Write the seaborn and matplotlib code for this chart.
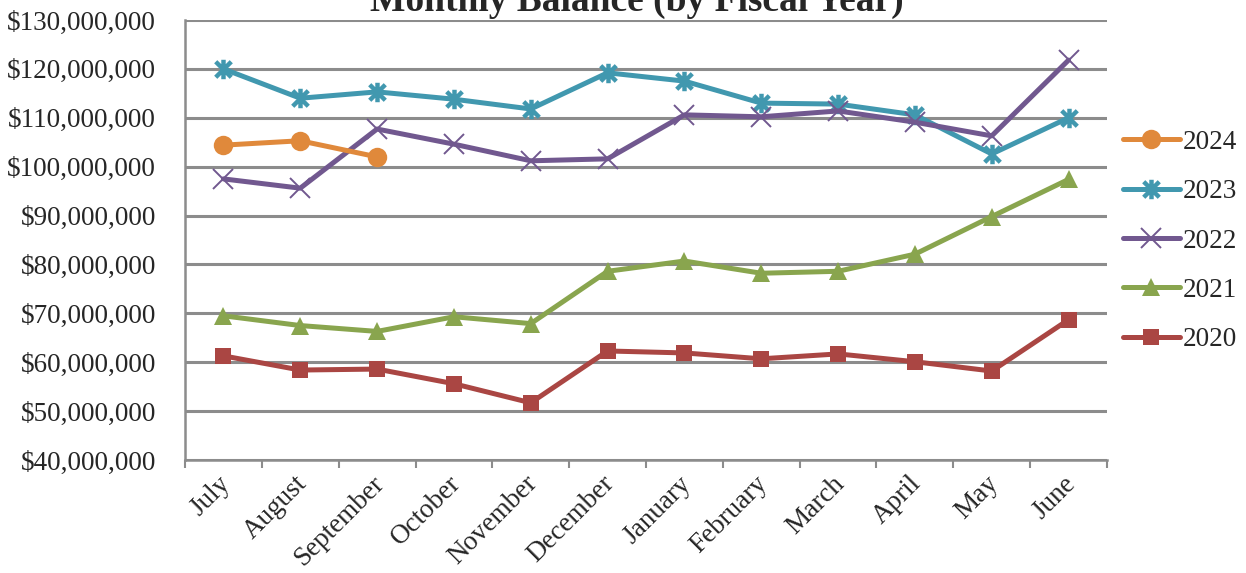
import numpy as np
import pandas as pd
import matplotlib
matplotlib.use("Agg")
import matplotlib.pyplot as plt
from matplotlib.path import Path
from matplotlib.ticker import FuncFormatter, FixedLocator
from matplotlib.transforms import ScaledTranslation
import seaborn as sns

# Kuukaudet (tilikausi heinäkuusta kesäkuuhun)
months = ["July", "August", "September", "October", "November", "December",
          "January", "February", "March", "April", "May", "June"]

# Saldot miljoonina dollareina, luettu kuvasta
fy2024 = [104.4, 105.3, 102.0]
fy2023 = [120.0, 114.0, 115.3, 113.8, 111.8, 119.2, 117.5, 113.0, 112.8, 110.6, 102.6, 110.0]
fy2022 = [97.5, 95.6, 107.7, 104.6, 101.2, 101.6, 110.6, 110.2, 111.4, 109.1, 106.3, 121.8]
fy2021 = [69.5, 67.5, 66.3, 69.3, 67.9, 78.6, 80.7, 78.2, 78.6, 82.1, 89.8, 97.4]
fy2020 = [61.3, 58.4, 58.6, 55.6, 51.7, 62.3, 61.9, 60.7, 61.7, 60.1, 58.2, 68.7]

years = ["2024", "2023", "2022", "2021", "2020"]
series = {"2024": fy2024, "2023": fy2023, "2022": fy2022, "2021": fy2021, "2020": fy2020}

colors = {"2024": "#E0893B", "2023": "#4198AF", "2022": "#71588F",
          "2021": "#89A54E", "2020": "#AA4643"}

# Excelin tähtimerkki: pystyviiva + risti
star = Path([(0, -1), (0, 1), (-0.8, -0.8), (0.8, 0.8), (-0.8, 0.8), (0.8, -0.8)],
            [Path.MOVETO, Path.LINETO, Path.MOVETO, Path.LINETO, Path.MOVETO, Path.LINETO])

styles = {
    "2024": dict(marker="o", markersize=14, markeredgewidth=0),
    "2023": dict(marker=star, markersize=14, markeredgewidth=3.2),
    "2022": dict(marker="x", markersize=14, markeredgewidth=1.4),
    "2021": dict(marker="^", markersize=13, markeredgewidth=0),
    "2020": dict(marker="s", markersize=12, markeredgewidth=0),
}
zorders = {"2020": 3, "2021": 4, "2023": 5, "2022": 6, "2024": 7}

# Pitkä muoto seabornille
rows = []
for y in years:
    for i, v in enumerate(series[y]):
        rows.append({"month": i, "year": y, "balance": v * 1e6})
df = pd.DataFrame(rows)

sns.set_theme(style="white")
plt.rcParams["font.family"] = ["Liberation Serif", "DejaVu Serif"]

fig = plt.figure(figsize=(12.46, 5.73), dpi=100)
ax = fig.add_axes([185 / 1246, 1 - 460 / 573, (1107 - 185) / 1246, 440 / 573])

for y in years:
    d = df[df["year"] == y]
    sns.lineplot(data=d, x="month", y="balance", ax=ax, color=colors[y],
                 linewidth=3.6, label=y, zorder=zorders[y],
                 markerfacecolor=colors[y], markeredgecolor=colors[y],
                 **styles[y])

ax.set_xlim(-0.5, len(months) - 0.5)
ax.set_ylim(40e6, 130e6)
ax.set_yticks(np.arange(40e6, 130e6 + 1, 10e6))
ax.yaxis.set_major_formatter(FuncFormatter(lambda v, p: f"${v:,.0f}"))

ax.set_xticks(range(len(months)))
ax.set_xticklabels(months, rotation=45, ha="right", rotation_mode="anchor")
ax.xaxis.set_minor_locator(FixedLocator(np.arange(-0.5, len(months), 1)))
ax.tick_params(axis="x", which="major", length=0, pad=8, labelsize=19.5)
ax.tick_params(axis="x", which="minor", length=6, width=1.5, color="#8c8c8c",
               direction="out", bottom=True)
ax.tick_params(axis="y", which="major", length=6, width=1.5, color="#8c8c8c",
               direction="out", labelsize=19.5, pad=15)
ax.set_xlabel("")
ax.set_ylabel("")

ax.grid(axis="y", color="#8c8c8c", linewidth=2.2)
ax.set_axisbelow(True)
for s in ["top", "right"]:
    ax.spines[s].set_visible(False)
for s in ["left", "bottom"]:
    ax.spines[s].set_color("#8c8c8c")
    ax.spines[s].set_linewidth(1.8)

# Siirretään kuukausinimiä hieman vasemmalle
for lbl in ax.get_xticklabels():
    lbl.set_transform(lbl.get_transform() + ScaledTranslation(-0.06, 0, fig.dpi_scale_trans))

ax.legend(loc="center left", bbox_to_anchor=(1123 / 1246, 1 - 241 / 573),
          bbox_transform=fig.transFigure, frameon=False, fontsize=19.5,
          handlelength=2.1, handletextpad=0.1, labelspacing=0.9,
          borderpad=0, borderaxespad=0)

fig.text(0.511, 1 - 11 / 573, "Monthly Balance (by Fiscal Year)", ha="center",
         va="baseline", fontsize=27, fontweight="bold")

fig.savefig("out.png", dpi=100)
